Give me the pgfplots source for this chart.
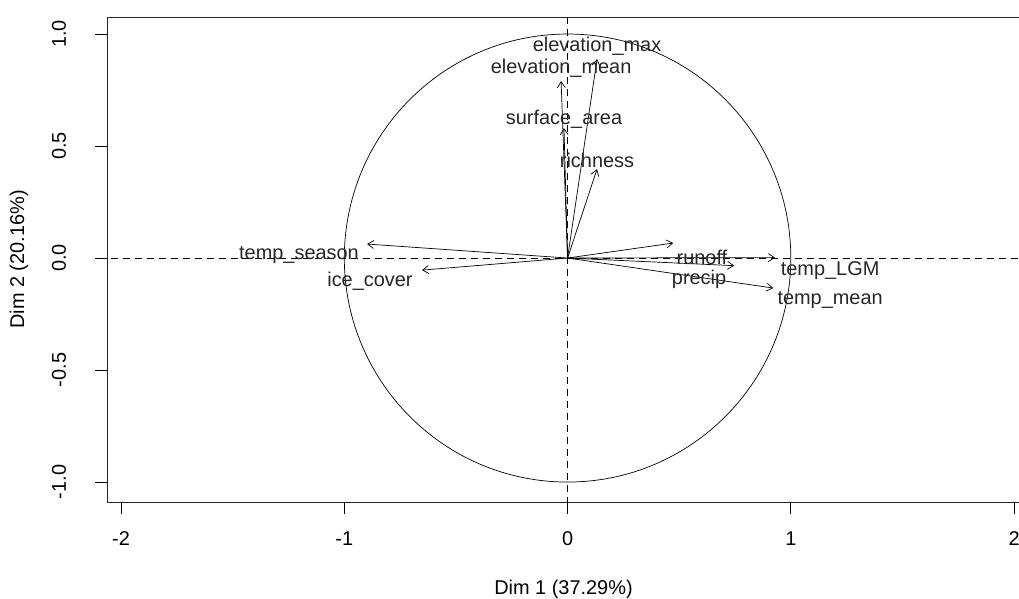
\documentclass[border=0pt]{standalone}
\usepackage{pgfplots}
\pgfplotsset{compat=1.18}
\usepackage{fontspec}
\setmainfont{Liberation Sans}
\usetikzlibrary{arrows.meta}

\pgfplotstableread{
x y u v
0 0 0.132 0.888
0 0 -0.029 0.790
0 0 -0.016 0.580
0 0 0.132 0.397
0 0 -0.898 0.0625
0 0 -0.652 -0.054
0 0 0.473 0.067
0 0 0.929 0.002
0 0 0.746 -0.034
0 0 0.921 -0.134
}\arrowtab

\pgfplotstableread{
x y label
0.132 0.946 elevation\_max
-0.029 0.848 elevation\_mean
-0.016 0.621 surface\_area
0.132 0.4375 richness
-1.203 0.013 temp\_season
-0.885 -0.103 ice\_cover
0.602 0.004 runoff
1.176 -0.054 temp\_LGM
0.589 -0.094 precip
1.176 -0.1875 temp\_mean
}\labeltab

\begin{document}
\begin{tikzpicture}[font=\fontsize{20}{24}\selectfont]
\begin{axis}[name=ax, at={(0,0)}, anchor=south west,
  scale only axis, width=913bp, height=485bp,
  xmin=-2.063, xmax=2.0266, ymin=-1.089, ymax=1.076,
  xtick={-2,-1,0,1,2}, xticklabels={-2,-1,0,1,2},
  ytick={-1,-0.5,0,0.5,1}, yticklabels={-1.0,-0.5,0.0,0.5,1.0},
  tick pos=left, tick align=outside, major tick length=12bp,
  tick style={black, line width=0.8bp},
  axis line style={black!85, line width=0.9bp},
  xticklabel style={anchor=center}, xticklabel shift=25bp,
  yticklabel style={rotate=90, anchor=center}, yticklabel shift=36bp,
  xlabel={Dim 1 (37.29\%)}, ylabel={Dim 2 (20.16\%)},
  xlabel style={at={(axis description cs:0.5,-0.1794)}, anchor=center},
  ylabel style={at={(axis description cs:-0.0964,0.5)}, anchor=center, rotate=0},
]
\addplot[black, line width=0.7bp, dash pattern=on 7bp off 5bp] coordinates {(-2.1,0) (2.1,0)};
\addplot[black, line width=0.7bp, dash pattern=on 7bp off 5bp] coordinates {(0,-1.1) (0,1.1)};
\draw[black, line width=0.7bp] (axis cs:0,0) ellipse [x radius=1, y radius=1];
\addplot[black, line width=0.7bp, -{Straight Barb[length=6bp,width=8bp]},
  quiver={u=\thisrow{u}, v=\thisrow{v}}] table {\arrowtab};
\addplot[only marks, mark=none, nodes near coords, point meta=explicit symbolic,
  nodes near coords style={anchor=center, inner sep=0pt, text=black!85}]
  table[meta=label] {\labeltab};
\end{axis}
\pgfresetboundingbox
\path[use as bounding box] ([xshift=-107bp,yshift=-97bp]ax.south west) rectangle ([xshift=-1bp,yshift=17bp]ax.north east);
\end{tikzpicture}
\end{document}
